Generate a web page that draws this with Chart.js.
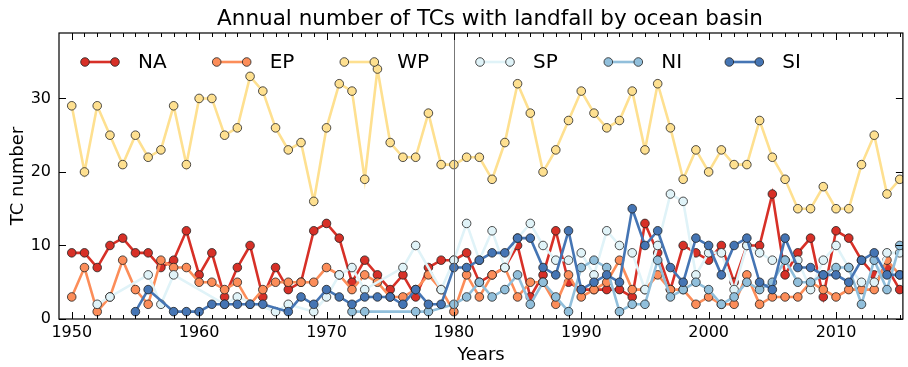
<!DOCTYPE html>
<html>
<head>
<meta charset="utf-8">
<script src="https://cdn.jsdelivr.net/npm/chart.js@4.4.0/dist/chart.umd.min.js"></script>
<style>
html, body { margin: 0; padding: 0; background: #fff; }
#wrap { width: 908px; height: 367px; }
</style>
</head>
<body>
<div id="wrap"><canvas id="chart" width="908" height="367"></canvas></div>
<script>
// Years on the x axis
var years = [
	1950, 1951, 1952, 1953, 1954, 1955, 1956, 1957, 1958, 1959,
	1960, 1961, 1962, 1963, 1964, 1965, 1966, 1967, 1968, 1969,
	1970, 1971, 1972, 1973, 1974, 1975, 1976, 1977, 1978, 1979,
	1980, 1981, 1982, 1983, 1984, 1985, 1986, 1987, 1988, 1989,
	1990, 1991, 1992, 1993, 1994, 1995, 1996, 1997, 1998, 1999,
	2000, 2001, 2002, 2003, 2004, 2005, 2006, 2007, 2008, 2009,
	2010, 2011, 2012, 2013, 2014, 2015
];

// Landfall counts per basin (null = no record that year)
var NA = [
	9, 9, 7, 10, 11, 9, 9, 7, 8, 12,
	6, 9, 3, 7, 10, 3, 7, 4, 5, 12,
	13, 11, 5, 8, 6, 4, 6, 3, 7, 8,
	8, 9, 5, 6, 7, 10, 3, 6, 12, 5,
	4, 4, 4, 4, 3, 13, 9, 4, 10, 9,
	8, 10, 5, 10, 10, 17, 6, 9, 11, 3,
	12, 11, 8, 6, 7, 4
];
var EP = [
	3, 7, 1, 3, 8, 4, 2, 8, 7, 7,
	5, 5, 4, 5, 2, 4, 5, 5, 5, 5,
	7, 6, 4, 6, 5, 3, 3, 4, 6, 4,
	1, 6, 3, 6, 7, 3, 5, 5, 2, 6,
	3, 4, 5, 8, 4, 4, 6, 4, 4, 2,
	3, 2, 2, 6, 2, 3, 3, 3, 5, 4,
	3, 4, 4, 4, 8, 6
];
var WP = [
	29, 20, 29, 25, 21, 25, 22, 23, 29, 21,
	30, 30, 25, 26, 33, 31, 26, 23, 24, 16,
	26, 32, 31, 19, 34, 24, 22, 22, 28, 21,
	21, 22, 22, 19, 24, 32, 28, 20, 23, 27,
	31, 28, 26, 27, 31, 23, 32, 26, 19, 23,
	20, 23, 21, 21, 27, 22, 19, 15, 15, 18,
	15, 15, 21, 25, 17, 19
];
var SP = [
	null, null, 2, 3, null, null, 6, 2, 6, null,
	null, null, 2, 3, null, null, 1, 2, null, 1,
	3, 6, 7, 4, null, null, 7, 10, null, 4,
	8, 13, 8, 12, 7, 11, 13, 10, 8, 8,
	9, 6, 12, 10, 9, 4, 10, 17, 16, 6,
	9, 9, 4, 10, 9, 8, 8, 8, 4, 8,
	10, 7, 5, 5, 9, 9
];
var NI = [
	null, null, null, null, null, null, null, null, null, null,
	null, null, null, null, null, null, null, null, null, null,
	null, null, 1, 1, null, null, null, 1, 1, null,
	2, 3, 5, 3, 4, 6, 2, 5, 3, 1,
	7, 8, 7, 1, 2, 2, 8, 3, 4, 5,
	4, 2, 3, 5, 4, 5, 8, 5, 5, 6,
	7, 7, 2, 8, 4, 10
];
var SI = [
	null, null, null, null, null, 1, 4, null, 1, 1,
	1, 2, 2, 2, 2, 2, null, 1, 3, 2,
	4, 3, 2, 3, 3, 3, 2, 4, 2, 2,
	7, 7, 8, 9, 9, 11, 11, 7, 6, 12,
	4, 5, 6, 5, 15, 10, 12, 7, 5, 11,
	10, 6, 10, 11, 5, 4, 11, 7, 7, 6,
	6, 5, 8, 9, 6, 6
];

var basinNames = ["NA", "EP", "WP", "SP", "NI", "SI"];
var basinData = [NA, EP, WP, SP, NI, SI];
var xTicks = [1950, 1960, 1970, 1980, 1990, 2000, 2010];
var yTicks = [0, 10, 20, 30];
var splitYear = 1980;

// RdYlBu style colours, one per basin
var colors = ["#d73027", "#fc8d59", "#fee090", "#e0f3f8", "#91bfdb", "#4575b4"];
var FONT = "'DejaVu Sans', 'Liberation Sans', sans-serif";

function toPoints(arr)
{
	return years.map(function(y, i) { return {x: y, y: arr[i]}; });
}

var datasets = basinNames.map(function(name, i) {
	return {
		label: name,
		data: toPoints(basinData[i]),
		borderColor: colors[i],
		backgroundColor: colors[i],
		borderWidth: 2.6,
		pointRadius: 4.3,
		pointBorderWidth: 0.8,
		pointBorderColor: "#222",
		pointBackgroundColor: colors[i],
		tension: 0,
		spanGaps: true,
		order: 6 - i
	};
});

// Frame, inward ticks, 1980 line, legend and title
var decorPlugin = {
	id: "decor",
	afterDatasetsDraw: function(chart) {
		var c = chart.ctx, a = chart.chartArea;
		var sx = chart.scales.x, sy = chart.scales.y;
		c.save();

		// vertical 1980 line
		var vx = Math.round(sx.getPixelForValue(splitYear)) + 0.5;
		c.strokeStyle = "#777";
		c.lineWidth = 1;
		c.beginPath(); c.moveTo(vx, a.top); c.lineTo(vx, a.bottom); c.stroke();

		// frame
		c.strokeStyle = "#000";
		c.lineWidth = 1.2;
		c.strokeRect(a.left, a.top, a.right - a.left, a.bottom - a.top);

		// x ticks, top and bottom, pointing in
		c.lineWidth = 1;
		for (var yr = years[0]; yr <= years[years.length - 1]; yr++) {
			var px = Math.round(sx.getPixelForValue(yr)) + 0.5;
			var len = (yr % 10 == 0) ? 7 : 4;
			c.beginPath();
			c.moveTo(px, a.bottom); c.lineTo(px, a.bottom - len);
			c.moveTo(px, a.top); c.lineTo(px, a.top + len);
			c.stroke();
		}
		// y ticks, left and right
		yTicks.forEach(function(v) {
			var py = Math.round(sy.getPixelForValue(v)) + 0.5;
			c.beginPath();
			c.moveTo(a.left, py); c.lineTo(a.left + 7, py);
			c.moveTo(a.right, py); c.lineTo(a.right - 7, py);
			c.stroke();
		});

		// legend: two markers joined by a line, then the name
		var legendX = [85, 216.7, 344.3, 480, 608.3, 729.3];
		var ly = 62;
		c.font = "20px " + FONT;
		c.textBaseline = "middle";
		c.textAlign = "left";
		basinNames.forEach(function(name, i) {
			var x0 = legendX[i], x1 = x0 + 30;
			c.strokeStyle = colors[i];
			c.lineWidth = 2.6;
			c.beginPath(); c.moveTo(x0, ly); c.lineTo(x1, ly); c.stroke();
			[x0, x1].forEach(function(px) {
				c.beginPath();
				c.arc(px, ly, 4.3, 0, Math.PI * 2);
				c.fillStyle = colors[i];
				c.fill();
				c.lineWidth = 0.8;
				c.strokeStyle = "#222";
				c.stroke();
			});
			c.fillStyle = "#000";
			c.fillText(name, x0 + 53, ly + 1);
		});

		// title
		c.font = "21.5px " + FONT;
		c.textAlign = "center";
		c.fillStyle = "#000";
		c.fillText("Annual number of TCs with landfall by ocean basin", 490, 19);

		// axis titles
		c.font = "18px " + FONT;
		c.fillText("Years", (a.left + a.right) / 2, 355);
		c.save();
		c.translate(18, (a.top + a.bottom) / 2);
		c.rotate(-Math.PI / 2);
		c.fillText("TC number", 0, 0);
		c.restore();

		c.restore();
	}
};

new Chart(document.getElementById("chart"), {
	type: "line",
	data: { datasets: datasets },
	options: {
		responsive: false,
		animation: false,
		layout: { padding: { top: 33, right: 1, left: 0, bottom: 0 } },
		plugins: {
			legend: { display: false },
			tooltip: { enabled: false },
			title: { display: false }
		},
		scales: {
			x: {
				type: "linear",
				min: 1949,
				max: 2015.25,
				afterFit: function(s) { s.height = 48; },
				afterBuildTicks: function(s) { s.ticks = xTicks.map(function(v) { return {value: v}; }); },
				grid: { display: false, drawTicks: false },
				border: { display: false },
				ticks: {
					font: { family: FONT, size: 16 }, color: "#000", padding: 4, maxRotation: 0, autoSkip: false,
					callback: function(v) { return String(v); }
				}
			},
			y: {
				min: 0,
				max: 38.9,
				afterFit: function(s) { s.width = 59; },
				afterBuildTicks: function(s) { s.ticks = yTicks.map(function(v) { return {value: v}; }); },
				grid: { display: false, drawTicks: false },
				border: { display: false },
				ticks: {
					font: { family: FONT, size: 16 }, color: "#000", padding: 8,
					callback: function(v) { return String(v); }
				}
			}
		}
	},
	plugins: [decorPlugin]
});
</script>
</body>
</html>
